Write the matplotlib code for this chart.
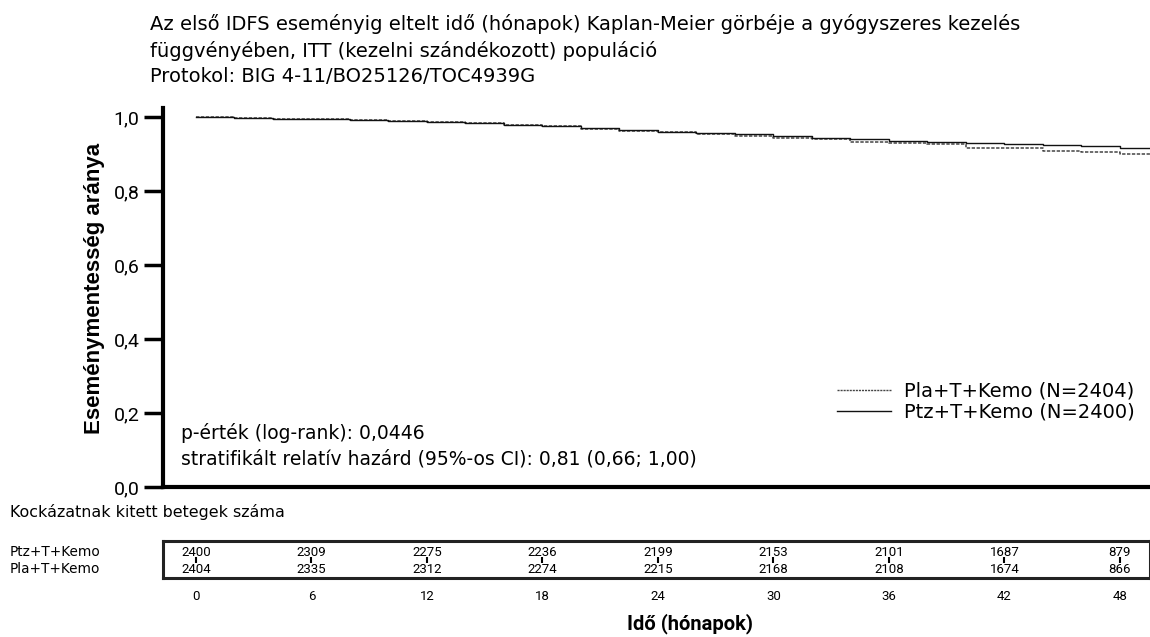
import numpy as np
import matplotlib.pyplot as plt
from matplotlib.lines import Line2D

plt.rcParams["font.family"] = ["Roboto", "DejaVu Sans"]
TXT = ["DejaVu Sans"]

# Kaplan-Meier values (months, survival)
months = [0, 2, 4, 6, 8, 10, 12, 14, 16, 18, 20, 22, 24, 26, 28, 30,
          32, 34, 36, 38, 40, 42, 44, 46, 48, 49.6]
ptz_surv = [1.000, 0.998, 0.996, 0.994, 0.992, 0.989, 0.987, 0.984, 0.979,
            0.975, 0.970, 0.965, 0.961, 0.958, 0.954, 0.950, 0.945, 0.941,
            0.937, 0.933, 0.930, 0.928, 0.925, 0.922, 0.918, 0.915]
pla_surv = [1.000, 0.998, 0.996, 0.994, 0.992, 0.989, 0.987, 0.984, 0.979,
            0.975, 0.969, 0.963, 0.959, 0.955, 0.949, 0.945, 0.940, 0.934,
            0.930, 0.927, 0.918, 0.916, 0.909, 0.905, 0.901, 0.899]

# number at risk
risk_times = [0, 6, 12, 18, 24, 30, 36, 42, 48]
ptz_risk = [2400, 2309, 2275, 2236, 2199, 2153, 2101, 1687, 879]
pla_risk = [2404, 2335, 2312, 2274, 2215, 2168, 2108, 1674, 866]

y_ticks = [0.0, 0.2, 0.4, 0.6, 0.8, 1.0]
y_tick_labels = ["0,0", "0,2", "0,4", "0,6", "0,8", "1,0"]

W, H = 1150, 637
fig = plt.figure(figsize=(W / 100, H / 100), dpi=100)

xmin, xmax = -1.71, 49.56

# main KM axes
ax = fig.add_axes([163 / W, 1 - 487 / H, 1 - 163 / W, (487 - 108) / H])
ax.step(months, pla_surv, where="post", color="#444444", lw=1.1,
        linestyle=(0, (2.2, 1.0)))
ax.step(months, ptz_surv, where="post", color="#111111", lw=1.0)
ax.set_xlim(xmin, xmax)
ax.set_ylim(0, 1.025)
ax.set_yticks(y_ticks)
ax.set_yticklabels(y_tick_labels, fontsize=14)
ax.set_xticks([])
for s in ["top", "right"]:
    ax.spines[s].set_visible(False)
for s in ["left", "bottom"]:
    ax.spines[s].set_linewidth(3)
ax.tick_params(axis="y", length=14, width=2.5, pad=3)
ax.set_ylabel("Eseménymentesség aránya", fontsize=16, fontweight="bold",
              family=["Liberation Sans", "DejaVu Sans"], labelpad=6, y=0.525)

ax.text(0.018, 0.1425, "p-érték (log-rank): 0,0446", transform=ax.transAxes,
        fontsize=13.5, va="center", family=TXT)
ax.text(0.018, 0.074, "stratifikált relatív hazárd (95%-os CI): 0,81 (0,66; 1,00)",
        transform=ax.transAxes, fontsize=13.5, va="center", family=TXT)

handles = [Line2D([], [], color="#444444", lw=1.0, linestyle=(0, (1.5, 0.7))),
           Line2D([], [], color="#111111", lw=1.0)]
ax.legend(handles, ["Pla+T+Kemo (N=2404)", "Ptz+T+Kemo (N=2400)"],
          loc="upper right", bbox_to_anchor=(0.994, 0.303), frameon=False,
          prop={"family": TXT, "size": 14}, handlelength=2.8,
          handletextpad=0.65, labelspacing=0.1, borderpad=0)

# title
fig.text(150 / W, 1 - 14 / H,
         "Az első IDFS eseményig eltelt idő (hónapok) Kaplan-Meier görbéje a gyógyszeres kezelés\n"
         "függvényében, ITT (kezelni szándékozott) populáció\n"
         "Protokol: BIG 4-11/BO25126/TOC4939G",
         fontsize=14, va="top", ha="left", linespacing=1.41, family=TXT)

# risk table
fig.text(10 / W, 1 - 512 / H, "Kockázatnak kitett betegek száma",
         fontsize=11.4, va="center", family=TXT)
fig.text(10 / W, 1 - 552 / H, "Ptz+T+Kemo", fontsize=9.8, va="center", family=TXT)
fig.text(10 / W, 1 - 569 / H, "Pla+T+Kemo", fontsize=9.8, va="center", family=TXT)

tax = fig.add_axes([163 / W, 1 - 578 / H, 1 - 163 / W, 37 / H])
tax.set_xlim(xmin, xmax)
tax.set_ylim(0, 1)
for s in ["top", "bottom", "left", "right"]:
    tax.spines[s].set_linewidth(2.2)
    tax.spines[s].set_color("#222222")
for t, a, b in zip(risk_times, ptz_risk, pla_risk):
    tax.text(t, 0.70, str(a), ha="center", va="center", fontsize=9.5)
    tax.text(t, 0.24, str(b), ha="center", va="center", fontsize=9.5)
tax.vlines(risk_times, 0.40, 0.56, color="black", lw=1.5)
tax.set_yticks([])
tax.set_xticks(risk_times)
tax.set_xticklabels([str(t) for t in risk_times], fontsize=9.5)
tax.tick_params(axis="x", length=0, pad=9)

fig.text(690 / W, 1 - 624 / H, "Idő (hónapok)", fontsize=14.5,
         fontweight="bold", ha="center", va="center")

fig.savefig("out.png", dpi=100)
